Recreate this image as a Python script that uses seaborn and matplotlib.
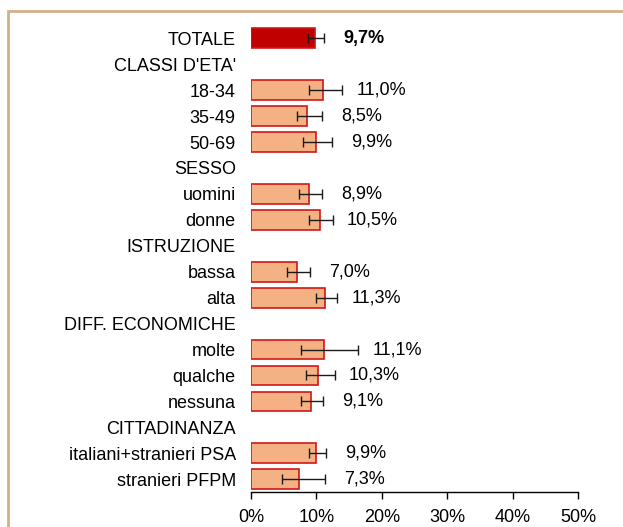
import numpy as np
import pandas as pd
import matplotlib
matplotlib.use("Agg")
import matplotlib.pyplot as plt
import seaborn as sns
from matplotlib.patches import Rectangle

# data (NaN = group header row)
labels = ["TOTALE", "CLASSI D'ETA'", "18-34", "35-49", "50-69", "SESSO",
          "uomini", "donne", "ISTRUZIONE", "bassa", "alta", "DIFF. ECONOMICHE",
          "molte", "qualche", "nessuna", "CITTADINANZA",
          "italiani+stranieri PSA", "stranieri PFPM"]
values = [9.7, np.nan, 11.0, 8.5, 9.9, np.nan, 8.9, 10.5, np.nan, 7.0, 11.3,
          np.nan, 11.1, 10.3, 9.1, np.nan, 9.9, 7.3]
ci_low = [8.7, np.nan, 8.9, 7.0, 8.0, np.nan, 7.3, 8.9, np.nan, 5.5, 9.9,
          np.nan, 7.6, 8.4, 7.6, np.nan, 8.9, 4.8]
ci_high = [11.2, np.nan, 13.9, 10.9, 12.4, np.nan, 10.9, 12.5, np.nan, 9.0, 13.1,
           np.nan, 16.3, 12.8, 11.0, np.nan, 11.5, 11.3]
x_ticks = [0, 10, 20, 30, 40, 50]

df = pd.DataFrame({"label": labels, "value": values,
                   "low": ci_low, "high": ci_high})

sns.set_style("white")
plt.rcParams["font.family"] = ["Liberation Sans", "DejaVu Sans"]

fig = plt.figure(figsize=(6.23, 5.27), dpi=100)
ax = fig.add_axes([0.403, 0.066, 0.525, 0.886])

palette = {lab: "#F4B183" for lab in labels}
palette["TOTALE"] = "#C00000"
sns.barplot(data=df.dropna(subset=["value"]), x="value", y="label", order=labels,
            hue="label", palette=palette, legend=False, orient="h", saturation=1,
            width=0.76, edgecolor="#D01818", linewidth=1.2, ax=ax)

# confidence intervals
ypos = np.arange(len(labels))
ok = df["value"].notna().values
err = np.vstack([df["value"] - df["low"], df["high"] - df["value"]])[:, ok]
ax.errorbar(df["value"][ok], ypos[ok], xerr=err, fmt="none", ecolor="#1a1a1a",
            elinewidth=1.0, capsize=3.5, capthick=1.0)

# value labels
for i, row in df.iterrows():
    if pd.isna(row["value"]):
        continue
    txt = f"{row['value']:.1f}".replace(".", ",") + "%"
    bold = row["label"] == "TOTALE"
    ax.text(max(row["high"], row["value"]) + 6, i, txt, ha="center", va="center",
            fontsize=13, fontweight="bold" if bold else "normal", color="black")

ax.set_xlim(0, 50)
ax.set_ylim(len(labels) - 0.5, -0.5)
ax.set_xticks(x_ticks)
ax.set_xticklabels([f"{t}%" for t in x_ticks], fontsize=13, color="black")
ax.set_yticks(ypos)
ax.set_yticklabels(labels, fontsize=13, color="black")
ax.set_xlabel("")
ax.set_ylabel("")
ax.tick_params(axis="y", length=0, pad=11)
ax.tick_params(axis="x", length=5, width=1, direction="out", color="black", pad=7,
               bottom=True)
for s in ["top", "right", "left"]:
    ax.spines[s].set_visible(False)
ax.spines["bottom"].set_color("black")
ax.spines["bottom"].set_linewidth(1)
ax.grid(False)

# tan frame around the chart (only top and left edges visible)
fig.patches.append(Rectangle((7.5 / 623, -0.1), 1.2, 1.1 - 10.5 / 527,
                             transform=fig.transFigure, fill=False,
                             edgecolor="#D3B08C", linewidth=2, clip_on=False))

fig.savefig("out.png", dpi=100)
